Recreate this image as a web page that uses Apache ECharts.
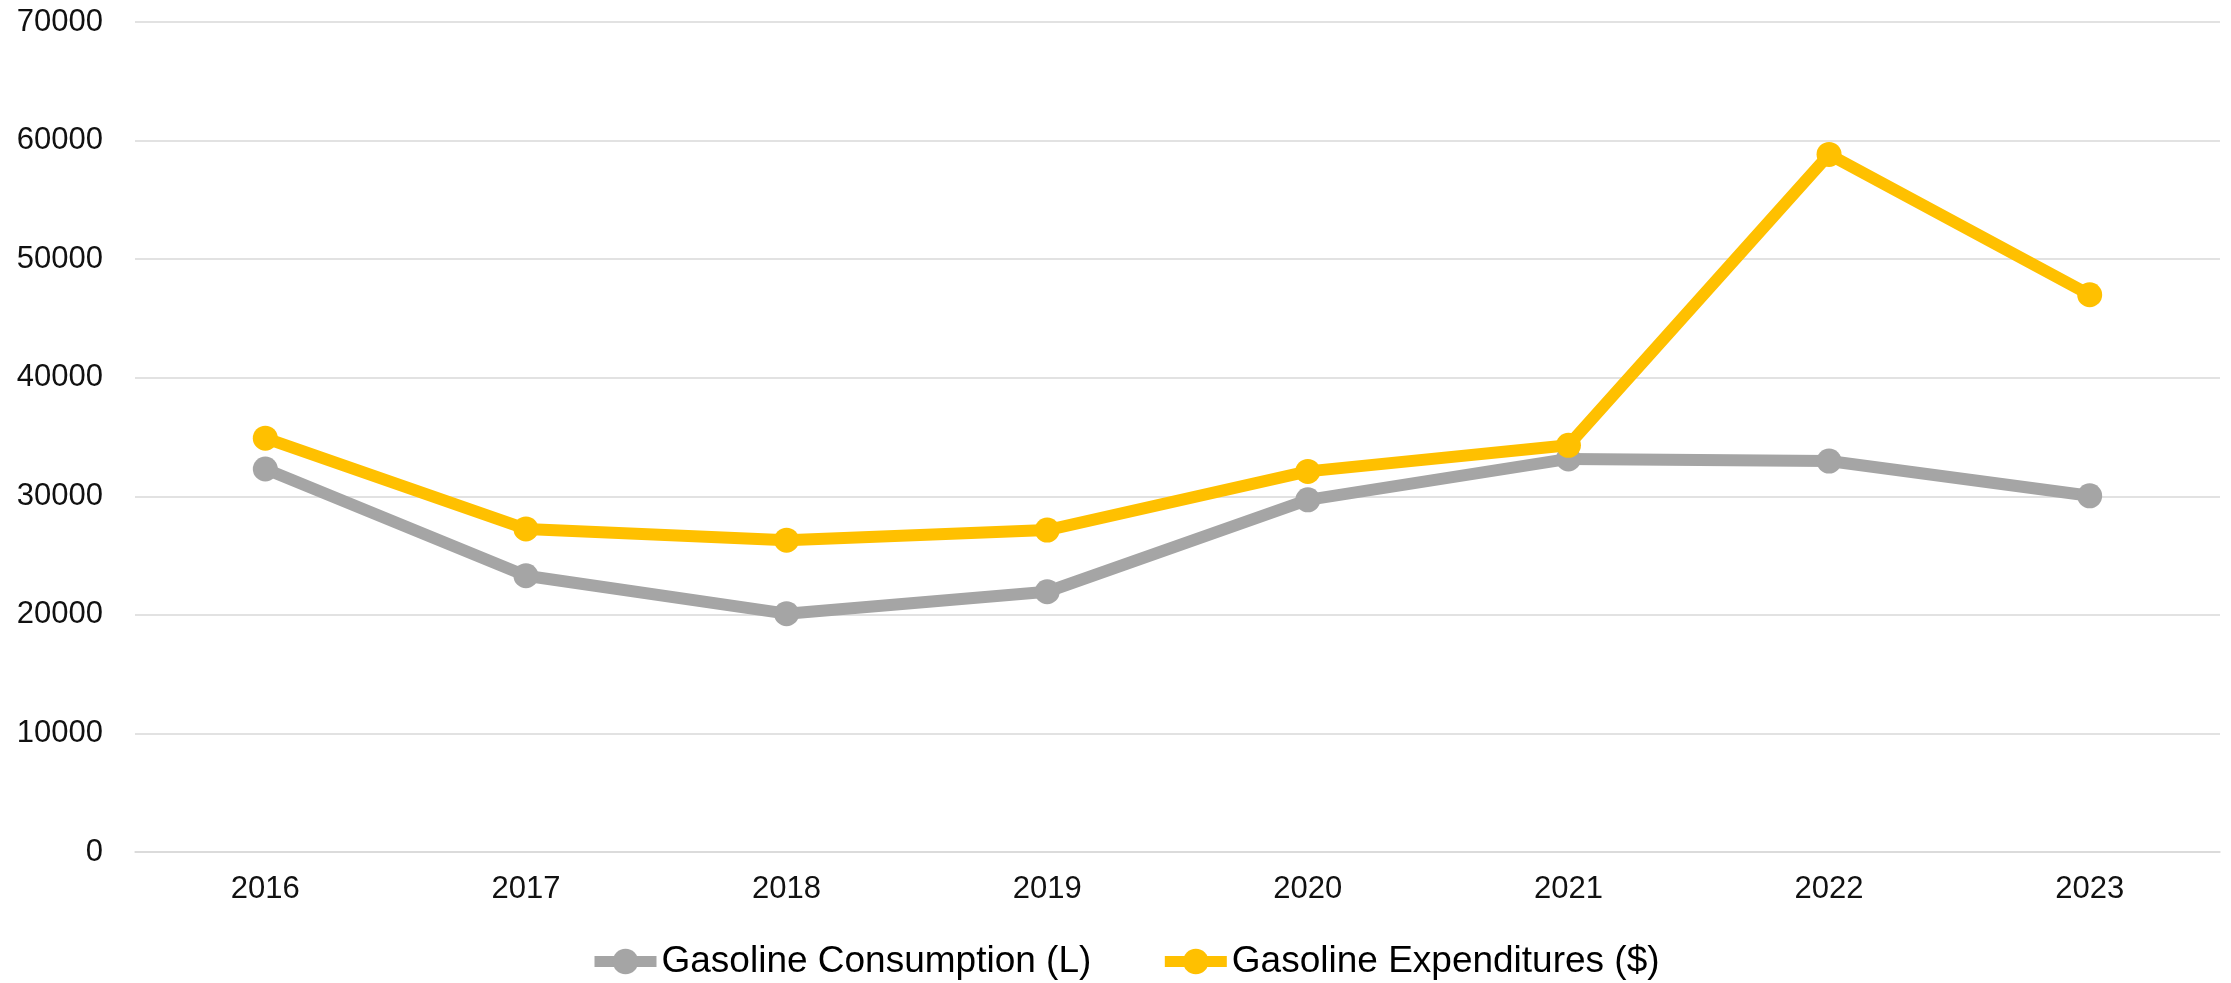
<!DOCTYPE html>
<html style="height: 100%">

<head>
  <meta charset="utf-8">
</head>

<body style="height: 100%; margin: 0; background: #fff">
  <div id="container" style="width: 2231px; height: 983px"></div>
  <script type="text/javascript" src="https://cdn.jsdelivr.net/npm/echarts@6/dist/echarts.min.js"></script>
  <script type="text/javascript">
    // 年份（x 轴类目）
    var years = ['2016', '2017', '2018', '2019', '2020', '2021', '2022', '2023'];
    // 汽油消耗量 (L)
    var consumption = [32300, 23300, 20100, 21950, 29700, 33150, 32970, 30040];
    // 汽油支出 ($)
    var expenditures = [34900, 27250, 26300, 27150, 32100, 34300, 58830, 47000];
    var seriesNames = ['Gasoline Consumption (L)', 'Gasoline Expenditures ($)'];

    var dom = document.getElementById("container");
    var myChart = echarts.init(dom);
    var fontFamily = '"Liberation Sans", Arial, Helvetica, sans-serif';

    function lineSeries(name, data, color) {
      return {
        name: name,
        type: 'line',
        data: data,
        symbol: 'circle',
        symbolSize: 25,
        animation: false,
        itemStyle: { color: color },
        lineStyle: { color: color, width: 12 }
      };
    }

    var option = {
      backgroundColor: '#fff',
      grid: {
        left: 135,
        right: 11,
        top: 22,
        bottom: 131
      },
      legend: {
        left: 584,
        top: 938,
        itemWidth: 62,
        itemHeight: 32,
        itemGap: 68,
        lineStyle: { width: 11 },
        textStyle: {
          fontFamily: fontFamily,
          fontSize: 37,
          color: '#000'
        },
        data: seriesNames
      },
      xAxis: {
        type: 'category',
        data: years,
        boundaryGap: true,
        axisLine: { show: true, lineStyle: { color: '#d9d9d9', width: 1.5 } },
        axisTick: { show: false },
        axisLabel: {
          margin: 22,
          fontFamily: fontFamily,
          fontSize: 31,
          color: '#111'
        }
      },
      yAxis: {
        type: 'value',
        min: 0,
        max: 70000,
        interval: 10000,
        axisLine: { show: false },
        axisTick: { show: false },
        splitLine: { lineStyle: { color: '#d9d9d9', width: 1.5 } },
        axisLabel: {
          margin: 32,
          fontFamily: fontFamily,
          fontSize: 31,
          color: '#111',
          formatter: function (v) { return String(v); }
        }
      },
      series: [
        lineSeries(seriesNames[0], consumption, '#A5A5A5'),
        lineSeries(seriesNames[1], expenditures, '#FFC000')
      ]
    };
    myChart.setOption(option, true);
  </script>
</body>

</html>
